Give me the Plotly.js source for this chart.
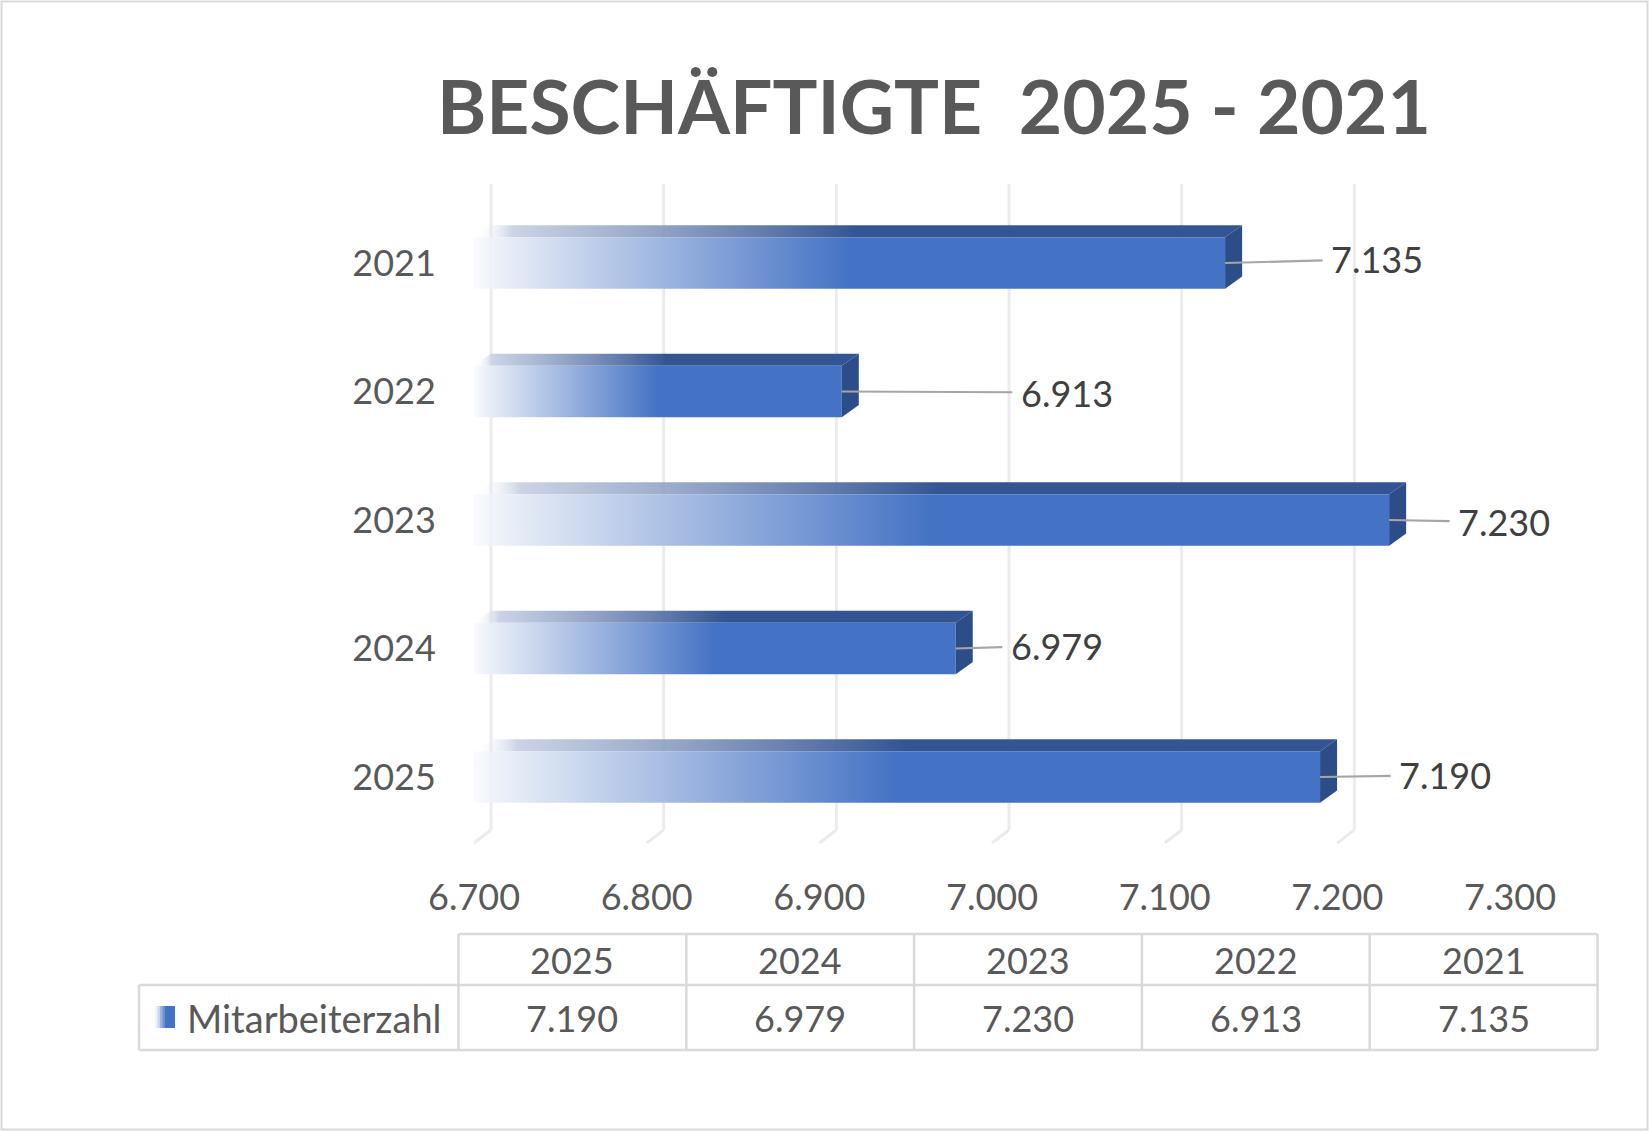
<!DOCTYPE html>
<html>
<head>
<meta charset="utf-8">
<script src="https://cdn.plot.ly/plotly-3.0.1.min.js"></script>
<style>
	html, body { margin: 0; padding: 0; background: #ffffff; }
	#chart { width: 1649px; height: 1131px; }
</style>
</head>
<body>
<div id="chart"></div>
<script>
'use strict';

// data, bottom bar first (same order as the table below the chart)
const years = ['2025', '2024', '2023', '2022', '2021'];
const staff = [7190, 6979, 7230, 6913, 7135];
const xTicks = [6700, 6800, 6900, 7000, 7100, 7200, 7300];
const xTickText = ['6.700', '6.800', '6.900', '7.000', '7.100', '7.200', '7.300'];
const seriesName = 'Mitarbeiterzahl';
const chartTitle = 'BESCHÄFTIGTE\u00a0 2025 - 2021';

document.addEventListener('DOMContentLoaded', function(){

	const W = 1649, H = 1131;
	const font = 'Lato, "Open Sans", sans-serif';
	const grey = '#595959';

	// 3d look of the bars, in axis units
	const half = 0.2, depthX = 9.85, depthY = 0.094;

	// pixel -> paper helpers for the frame and the table
	function px(x) { return x / W; }
	function py(y) { return 1 - y / H; }

	function fmt(v)
	{
		return Math.floor(v / 1000) + '.' + String(v % 1000).padStart(3, '0');
	}

	function barTraces(v, i)
	{
		const b = xTicks[0];
		const top = {
			x: [b, v, v + depthX, b + depthX, b],
			y: [i + half, i + half, i + half + depthY, i + half + depthY, i + half],
			fill: 'toself',
			fillgradient: {
				type: 'horizontal',
				colorscale: [[0, 'rgba(255,255,255,0)'], [0.05, 'rgba(190,200,222,0.8)'], [0.5, '#335593'], [1, '#335593']]
			}
		};
		const front = {
			x: [b, v, v, b, b],
			y: [i - half, i - half, i + half, i + half, i - half],
			fill: 'toself',
			fillgradient: {
				type: 'horizontal',
				colorscale: [[0, 'rgba(240,244,250,0.4)'], [0.025, '#EEF2F9'], [0.5, '#4472C4'], [1, '#4472C4']]
			}
		};
		const side = {
			x: [v, v + depthX, v + depthX, v, v],
			y: [i - half, i - half + depthY, i + half + depthY, i + half, i - half],
			fill: 'toself',
			fillcolor: '#2C4D88'
		};
		return [top, front, side].map(function(t){
			t.mode = 'lines';
			t.line = {width: 0, color: 'rgba(0,0,0,0)'};
			t.hoverinfo = 'skip';
			t.showlegend = false;
			t.type = 'scatter';
			return t;
		});
	}

	// leader offsets of the value labels, in px (label positions from the picture)
	const labelShift = [[125, -2], [101, -3], [115, 2], [225, 1], [152, -4]];

	function main()
	{
		let traces = [];
		staff.forEach(function(v, i){
			traces = traces.concat(barTraces(v, i));
		});

		const shapes = [];
		const annotations = [];

		// back wall grid lines with their short foot to the front
		xTicks.forEach(function(t){
			shapes.push({type: 'line', layer: 'below', xref: 'x', yref: 'paper',
				x0: t + depthX, x1: t + depthX, y0: py(184), y1: py(830),
				line: {color: '#EBEBEB', width: 3}});
			shapes.push({type: 'line', layer: 'below', xref: 'x', yref: 'paper',
				x0: t + depthX, x1: t, y0: py(830), y1: py(843),
				line: {color: '#EBEBEB', width: 3}});
		});

		staff.forEach(function(v, i){
			annotations.push({
				xref: 'x', yref: 'y', x: v, y: i,
				text: fmt(v),
				showarrow: true, arrowhead: 0, arrowwidth: 2.2, arrowcolor: '#A6A6A6',
				ax: labelShift[i][0], ay: labelShift[i][1],
				borderpad: 8, standoff: 0,
				font: {family: font, size: 36, color: '#404040'}
			});
		});

		// data table under the axis
		const tLeft = 139, tCol0 = 458.5, colW = 227.8;
		const rTop = 934, rMid = 985, rBot = 1050;
		const tRight = tCol0 + colW * years.length;
		const cellLine = {color: '#D9D9D9', width: 2.5};
		function seg(x0, y0, x1, y1)
		{
			shapes.push({type: 'line', xref: 'paper', yref: 'paper',
				x0: px(x0), y0: py(y0), x1: px(x1), y1: py(y1), line: cellLine});
		}
		seg(tCol0, rTop, tRight, rTop);
		seg(tLeft, rMid, tRight, rMid);
		seg(tLeft, rBot, tRight, rBot);
		seg(tLeft, rMid, tLeft, rBot);
		for(let k = 0; k <= years.length; k++)
		{
			seg(tCol0 + k * colW, rTop, tCol0 + k * colW, rBot);
		}

		years.forEach(function(yr, k){
			const cx = px(tCol0 + (k + 0.5) * colW);
			annotations.push({xref: 'paper', yref: 'paper', x: cx, y: py(960),
				text: yr, showarrow: false, xanchor: 'center', yanchor: 'middle',
				font: {family: font, size: 36, color: grey}});
			annotations.push({xref: 'paper', yref: 'paper', x: cx, y: py(1018),
				text: fmt(staff[k]), showarrow: false, xanchor: 'center', yanchor: 'middle',
				font: {family: font, size: 36, color: grey}});
		});
		annotations.push({xref: 'paper', yref: 'paper', x: px(185), y: py(1018),
			text: seriesName, showarrow: false, xanchor: 'left', yanchor: 'middle',
			font: {family: font, size: 38, color: grey}});

		// legend key: small square fading in from the left (layered, no seams)
		const keyCols = ['#F0F4FA', '#C9D6EF', '#9CB3E2', '#6F90D3', '#4472C4'];
		keyCols.forEach(function(c, k){
			shapes.push({type: 'rect', xref: 'paper', yref: 'paper',
				x0: px(155 + k * 2.5), x1: px(175), y0: py(1006), y1: py(1028),
				fillcolor: c, line: {width: 0}});
		});

		// outer frame
		shapes.push({type: 'rect', xref: 'paper', yref: 'paper',
			x0: px(1.5), x1: px(W - 1.5), y0: py(1.5), y1: py(H - 1.5),
			line: {color: '#D9D9D9', width: 2}});

		const layout = {
			width: W,
			height: H,
			margin: {l: 0, r: 0, t: 0, b: 0},
			paper_bgcolor: '#ffffff',
			plot_bgcolor: 'rgba(0,0,0,0)',
			showlegend: false,
			hovermode: false,
			title: {
				text: '<b>' + chartTitle + '</b>',
				font: {family: font, size: 75, color: grey},
				x: px(934), xanchor: 'center', xref: 'paper',
				y: py(108), yanchor: 'middle', yref: 'paper'
			},
			xaxis: {
				range: [xTicks[0], xTicks[xTicks.length - 1]],
				domain: [px(474), px(1510)],
				tickvals: xTicks,
				ticktext: xTickText,
				showgrid: false, zeroline: false, showline: false,
				ticks: 'outside', ticklen: 25, tickcolor: 'rgba(0,0,0,0)',
				tickfont: {family: font, size: 36, color: grey},
				fixedrange: true
			},
			yaxis: {
				range: [-0.5, 4.5],
				domain: [py(841.25), py(198.75)],
				tickvals: years.map(function(y, i){ return i; }),
				ticktext: years,
				showgrid: false, zeroline: false, showline: false,
				ticks: 'outside', ticklen: 30, tickcolor: 'rgba(0,0,0,0)',
				tickfont: {family: font, size: 36, color: grey},
				fixedrange: true
			},
			shapes: shapes,
			annotations: annotations
		};

		try {
			Plotly.newPlot('chart', traces, layout, {staticPlot: true});
		}
		catch (err) {
			console.error(err);
		}
	}

	main();
});
</script>
</body>
</html>
